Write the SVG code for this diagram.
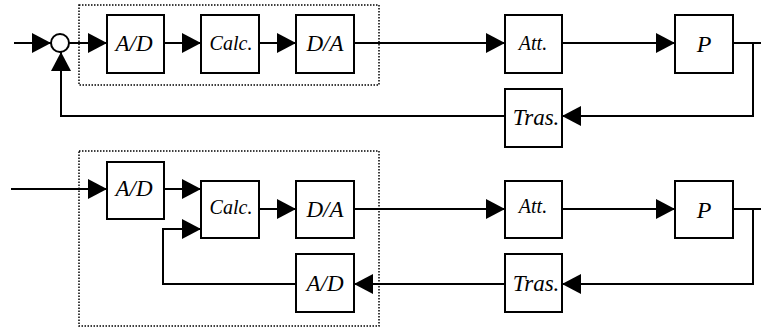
<svg xmlns="http://www.w3.org/2000/svg" width="761" height="328" viewBox="0 0 761 328">
<defs>
<marker id="arr" markerUnits="userSpaceOnUse" markerWidth="19" markerHeight="20" refX="19" refY="10" orient="auto">
<path d="M0,0 L19,10 L0,20 z" fill="#000"/>
</marker>
<style>
.box{fill:#fff;stroke:#000;stroke-width:2}
.dot{fill:none;stroke:#000;stroke-width:1.5;stroke-dasharray:1.5 1.5}
.ln{fill:none;stroke:#000;stroke-width:2}
.a{marker-end:url(#arr)}
</style>
</defs>
<rect width="761" height="328" fill="#fff"/>
<g id="group-top"><rect class="dot" x="79" y="5" width="300" height="80"/></g>
<g id="group-bottom"><rect class="dot" x="79" y="151" width="300" height="175"/></g>
<g id="connectors">
<path class="ln a" d="M14,43 H51"/>
<path class="ln a" d="M69,43 H107"/>
<path class="ln a" d="M164,43 H201"/>
<path class="ln a" d="M259,43 H296"/>
<path class="ln a" d="M354,43 H505"/>
<path class="ln a" d="M562,43 H675"/>
<path class="ln" d="M733,43 H761"/>
<path class="ln a" d="M753,43 V116 H562"/>
<path class="ln a" d="M505,116 H61 V52"/>
<path class="ln a" d="M11,189 H107"/>
<path class="ln a" d="M164,189 H201"/>
<path class="ln a" d="M259,209 H296"/>
<path class="ln a" d="M354,209 H505"/>
<path class="ln a" d="M562,209 H675"/>
<path class="ln" d="M733,209 H761"/>
<path class="ln a" d="M753,209 V284 H562"/>
<path class="ln a" d="M505,284 H354"/>
<path class="ln a" d="M296,284 H163 V229 H201"/>
</g>
<g id="sum"><circle cx="60" cy="43" r="9" fill="#fff" stroke="#000" stroke-width="2"/></g>
<g font-family="Liberation Serif, Times New Roman, serif" font-style="italic" text-anchor="middle" fill="#000">
<g id="ad1"><rect class="box" x="107" y="15" width="57" height="58"/><text font-size="23" x="134" y="51">A/D</text></g>
<g id="calc1"><rect class="box" x="201" y="15" width="58" height="58"/><text font-size="20" x="231" y="50">Calc.</text></g>
<g id="da1"><rect class="box" x="296" y="15" width="58" height="58"/><text font-size="23" x="325" y="51">D/A</text></g>
<g id="att1"><rect class="box" x="505" y="15" width="57" height="58"/><text font-size="20" x="533" y="50">Att.</text></g>
<g id="p1"><rect class="box" x="675" y="15" width="58" height="58"/><text font-size="24" x="704" y="52">P</text></g>
<g id="tras1"><rect class="box" x="505" y="89" width="57" height="58"/><text font-size="23" x="536" y="125">Tras.</text></g>
<g id="ad2"><rect class="box" x="107" y="162" width="57" height="57"/><text font-size="23" x="134" y="196">A/D</text></g>
<g id="calc2"><rect class="box" x="201" y="181" width="58" height="57"/><text font-size="20" x="231" y="214">Calc.</text></g>
<g id="da2"><rect class="box" x="296" y="181" width="58" height="57"/><text font-size="23" x="325" y="217">D/A</text></g>
<g id="att2"><rect class="box" x="505" y="181" width="57" height="57"/><text font-size="20" x="533" y="213">Att.</text></g>
<g id="p2"><rect class="box" x="675" y="181" width="58" height="57"/><text font-size="24" x="704" y="218">P</text></g>
<g id="tras2"><rect class="box" x="505" y="254" width="57" height="58"/><text font-size="23" x="536" y="291">Tras.</text></g>
<g id="ad3"><rect class="box" x="296" y="254" width="58" height="58"/><text font-size="23" x="325" y="291">A/D</text></g>
</g>
</svg>
